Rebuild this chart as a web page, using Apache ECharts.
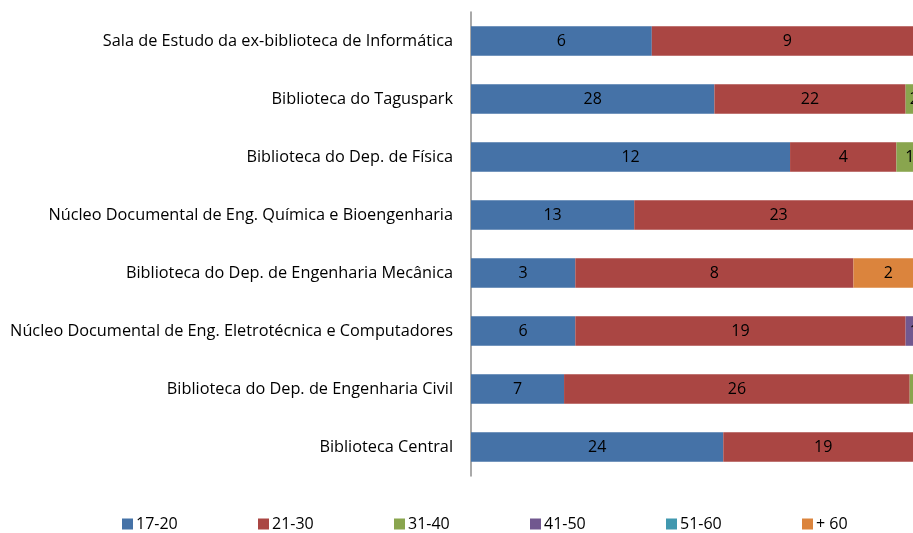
<!DOCTYPE html>
<html>
<head>
<meta charset="utf-8">
<script src="https://cdn.jsdelivr.net/npm/echarts@6/dist/echarts.min.js"></script>
<style>
  html, body { margin: 0; padding: 0; overflow: hidden; background: #fff; }
  #chart { width: 923px; height: 533px; }
</style>
</head>
<body>
<div id="chart"></div>
<script>
// categories, top to bottom
const libraries = [
  "Sala de Estudo da ex-biblioteca de Informática",
  "Biblioteca do Taguspark",
  "Biblioteca do Dep. de Física",
  "Núcleo Documental de Eng. Química e Bioengenharia",
  "Biblioteca do Dep. de Engenharia Mecânica",
  "Núcleo Documental de Eng. Eletrotécnica e Computadores",
  "Biblioteca do Dep. de Engenharia Civil",
  "Biblioteca Central"
];

const ageGroups = ["17-20", "21-30", "31-40", "41-50", "51-60", "+ 60"];

// counts per age group, same order as libraries
const age17_20 = [6, 28, 12, 13, 3, 6, 7, 24];
const age21_30 = [9, 22, 4, 23, 8, 19, 26, 19];
const age31_40 = [0, 2, 1, 0, 0, 0, 1, 0];
const age41_50 = [0, 0, 0, 0, 0, 1, 0, 0];
const age51_60 = [0, 0, 0, 0, 0, 0, 0, 0];
const age60plus = [0, 0, 0, 0, 2, 0, 0, 0];

const colors = ["#4572A7", "#AA4643", "#89A54E", "#71588F", "#4198AF", "#DB843D"];

const groups = [age17_20, age21_30, age31_40, age41_50, age51_60, age60plus];
const totals = libraries.map((_, i) => groups.reduce((s, g) => s + g[i], 0));

const chart = echarts.init(document.getElementById("chart"));

const series = groups.map((g, k) => ({
  name: ageGroups[k],
  type: "bar",
  stack: "total",
  barWidth: "51%",
  data: g.map((v, i) => ({ value: (v / totals[i]) * 100, count: v })),
  itemStyle: { color: colors[k] },
  label: {
    show: true,
    position: "inside",
    color: "#000",
    fontSize: 16,
    fontFamily: "Open Sans",
    formatter: (p) => (p.data.count > 0 ? String(p.data.count) : "")
  }
}));

// Excel-style legend: equal slots, one legend box per entry
const legends = ageGroups.map((name, k) => ({
  data: [name],
  left: 122 + k * 136,
  top: 516,
  icon: "rect",
  itemWidth: 11,
  itemHeight: 11,
  padding: 0,
  textStyle: { color: "#000", fontSize: 16, padding: [0, 0, 0, -2] }
}));

chart.setOption({
  animation: false,
  textStyle: { fontFamily: "Open Sans" },
  grid: { left: 471, right: 0, top: 12, bottom: 57, containLabel: false },
  legend: legends,
  xAxis: {
    type: "value",
    min: 0,
    max: 100,
    show: false
  },
  yAxis: {
    type: "category",
    data: libraries,
    inverse: true,
    axisLine: { show: true, lineStyle: { color: "#8c8c8c", width: 1.5 } },
    axisTick: { show: false },
    axisLabel: { color: "#000", fontSize: 16.3, margin: 18 },
    splitLine: { show: false }
  },
  series: series
});
</script>
</body>
</html>
